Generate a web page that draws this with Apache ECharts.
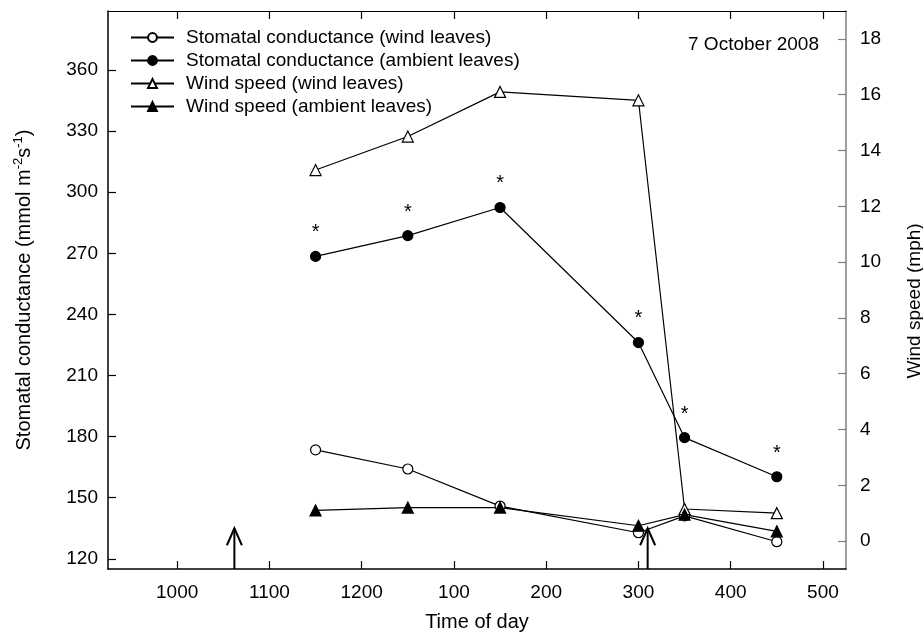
<!DOCTYPE html>
<html>
<head>
<meta charset="utf-8">
<script src="https://cdn.jsdelivr.net/npm/echarts@6/dist/echarts.min.js"></script>
<style>
html, body { margin: 0; padding: 0; background: #fff; }
#chartContainer { width: 923px; height: 634px; }
</style>
</head>
<body>
<div id="chartContainer"></div>
<script>
// time of day as decimal hours: 10 = 1000 ... 17 = 500 (pm)
const timeTicks = [10, 11, 12, 13, 14, 15, 16, 17];
const timeLabels = ['1000', '1100', '1200', '100', '200', '300', '400', '500'];
const sampleTimes = [11.5, 12.5, 13.5, 15.0, 15.5, 16.5];

// stomatal conductance (mmol m-2 s-1)
const condWind = [173.5, 164.1, 145.9, 132.8, 141.1, 128.4];
const condAmbient = [268.5, 278.7, 292.5, 226.2, 179.5, 160.3];
// wind speed (mph)
const speedWind = [13.3, 14.5, 16.1, 15.8, 1.15, 1.0];
const speedAmbient = [1.1, 1.2, 1.2, 0.55, 0.95, 0.35];

const condTicks = [120, 150, 180, 210, 240, 270, 300, 330, 360];
const speedTicks = [0, 2, 4, 6, 8, 10, 12, 14, 16, 18];

// arrows at the bottom of the plot
const arrowTimes = [10.62, 15.1];
const arrowBase = 115;
const arrowTip = 135;

const FONT = '"Liberation Sans", Arial, sans-serif';

function pairs(ys) {
    return sampleTimes.map((t, i) => [t, ys[i]]);
}

function lineSeries(name, ys, symbol, filled, yAxisIndex) {
    return {
        name: name,
        type: 'line',
        yAxisIndex: yAxisIndex,
        data: pairs(ys),
        symbol: symbol,
        symbolSize: symbol === 'triangle' ? 11 : 10,
        showSymbol: true,
        lineStyle: { color: '#000', width: 1.2 },
        itemStyle: { color: filled ? '#000' : '#fff', borderColor: '#000', borderWidth: 1.2 },
        emphasis: { disabled: true },
        animation: false
    };
}

const myChart = echarts.init(document.getElementById('chartContainer'));

const ambientCond = lineSeries('Stomatal conductance (ambient leaves)', condAmbient, 'circle', true, 0);
ambientCond.label = {
    show: true,
    position: 'top',
    distance: 8,
    formatter: '*',
    color: '#000',
    fontSize: 20,
    fontFamily: FONT
};

const option = {
    animation: false,
    textStyle: { fontFamily: FONT, color: '#000' },
    grid: { left: 108, right: 77, top: 11, bottom: 65, containLabel: false, outerBoundsMode: 'none' },
    title: {
        text: '7 October 2008',
        right: 104,
        top: 35,
        padding: 0,
        textStyle: { fontSize: 19, fontWeight: 'normal', color: '#000', fontFamily: FONT }
    },
    legend: {
        orient: 'vertical',
        left: 130,
        top: 28,
        padding: 0,
        itemWidth: 43,
        itemHeight: 11,
        itemGap: 4,
        selectedMode: false,
        data: [
            'Stomatal conductance (wind leaves)',
            'Stomatal conductance (ambient leaves)',
            'Wind speed (wind leaves)',
            'Wind speed (ambient leaves)'
        ],
        textStyle: { fontSize: 19, color: '#000', fontFamily: FONT, padding: [0, 0, 0, 7] }
    },
    xAxis: [{
        type: 'value',
        min: 9.25,
        max: 17.25,
        name: 'Time of day',
        nameLocation: 'middle',
        nameGap: 43,
        nameTextStyle: { fontSize: 20, color: '#000' },
        axisLine: { show: true, onZero: false, lineStyle: { color: '#000', width: 1.5 } },
        axisTick: { show: true, inside: true, length: 8, customValues: timeTicks, lineStyle: { color: '#000', width: 1.2 } },
        axisLabel: {
            customValues: timeTicks,
            margin: 14,
            fontSize: 19,
            color: '#000',
            formatter: v => timeLabels[timeTicks.indexOf(v)]
        },
        splitLine: { show: false }
    }, {
        type: 'value',
        position: 'top',
        min: 9.25,
        max: 17.25,
        axisLine: { show: true, onZero: false, lineStyle: { color: '#000', width: 1.2 } },
        axisTick: { show: true, inside: true, length: 8, customValues: timeTicks, lineStyle: { color: '#000', width: 1.2 } },
        axisLabel: { show: false },
        splitLine: { show: false }
    }],
    yAxis: [{
        type: 'value',
        position: 'left',
        min: 115,
        max: 389,
        name: 'Stomatal conductance (mmol m{sup|-2}s{sup|-1})',
        nameLocation: 'middle',
        nameRotate: 90,
        nameGap: 72,
        nameTextStyle: {
            fontSize: 20,
            color: '#000',
            lineHeight: 24,
            rich: { sup: { fontSize: 13, verticalAlign: 'top', lineHeight: 24, color: '#000' } }
        },
        axisLine: { show: true, onZero: false, lineStyle: { color: '#000', width: 1.5 } },
        axisTick: { show: true, inside: true, length: 8, customValues: condTicks, lineStyle: { color: '#000', width: 1.2 } },
        axisLabel: { customValues: condTicks, margin: 10, fontSize: 19, color: '#000' },
        splitLine: { show: false }
    }, {
        type: 'value',
        position: 'right',
        min: -1,
        max: 19,
        name: 'Wind speed (mph)',
        nameLocation: 'middle',
        nameRotate: 90,
        nameGap: 59,
        nameTextStyle: { fontSize: 19, color: '#000', padding: [0, 22, 0, 0] },
        axisLine: { show: true, onZero: false, lineStyle: { color: '#808080', width: 1.5 } },
        axisTick: { show: true, inside: true, length: 8, customValues: speedTicks, lineStyle: { color: '#808080', width: 1.2 } },
        axisLabel: { customValues: speedTicks, margin: 14, fontSize: 19, color: '#000' },
        splitLine: { show: false }
    }],
    series: [
        lineSeries('Stomatal conductance (wind leaves)', condWind, 'circle', false, 0),
        ambientCond,
        lineSeries('Wind speed (wind leaves)', speedWind, 'triangle', false, 1),
        lineSeries('Wind speed (ambient leaves)', speedAmbient, 'triangle', true, 1),
        {
            name: 'arrows',
            type: 'custom',
            xAxisIndex: 0,
            yAxisIndex: 0,
            data: arrowTimes.map(t => [t, arrowBase, arrowTip]),
            encode: { x: 0, y: [1, 2] },
            silent: true,
            renderItem: function (params, api) {
                const base = api.coord([api.value(0), api.value(1)]);
                const tip = api.coord([api.value(0), api.value(2)]);
                return {
                    type: 'group',
                    children: [{
                        type: 'line',
                        shape: { x1: base[0], y1: base[1], x2: tip[0], y2: tip[1] },
                        style: { stroke: '#000', lineWidth: 2 }
                    }, {
                        type: 'polyline',
                        shape: { points: [[tip[0] - 7.5, tip[1] + 17], [tip[0], tip[1]], [tip[0] + 7.5, tip[1] + 17]] },
                        style: { stroke: '#000', lineWidth: 2, fill: null }
                    }]
                };
            }
        }
    ]
};

myChart.setOption(option);
</script>
</body>
</html>
